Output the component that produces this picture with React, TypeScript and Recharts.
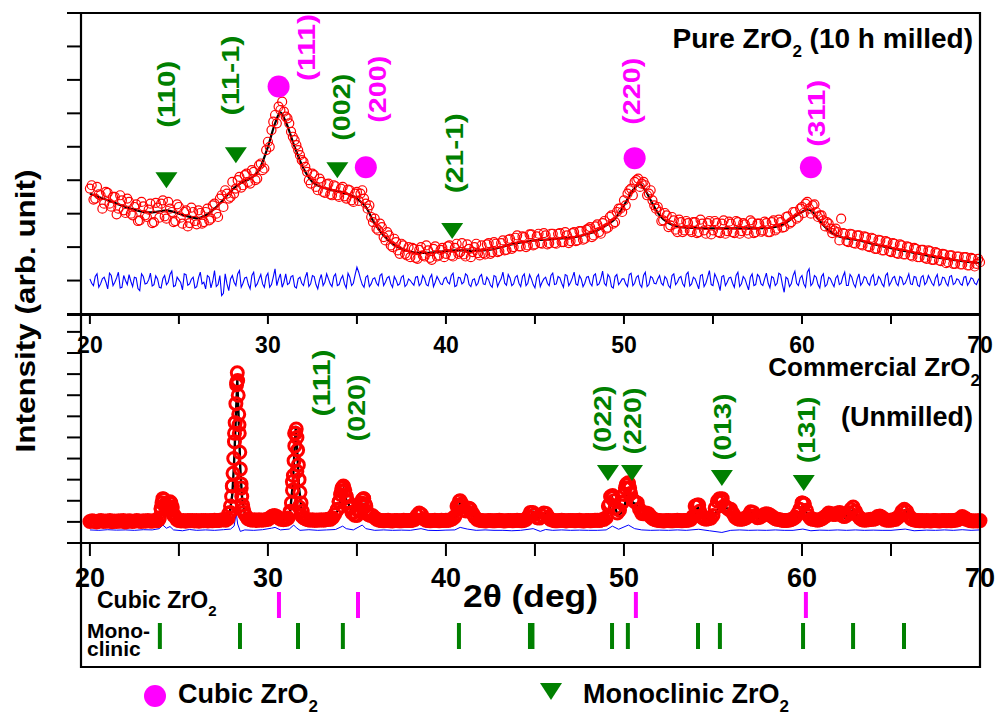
import React from "react";
import { ComposedChart, Line, Scatter, XAxis, YAxis } from "recharts";

const W = 996;
const H = 716;
const FONT = "'Liberation Sans', Arial, sans-serif";
const RED = "#ff0000";
const BLUE = "#0000ff";
const GREEN = "#008000";
const MAGENTA = "#ff00ff";

// 2-theta grid of the milled sample scan
const TOP_START = 20;
const TOP_STEP = 0.2;

// Pure ZrO2 (10 h milled): observed intensity at 20.0, 20.2, ... 70.0
const TOP_OBS = [
  3.75, 3.42, 3.8, 3.55, 3.3, 3.62, 3.21, 3.5, 3.15, 3.4,
  3.02, 3.35, 2.95, 3.28, 2.8, 3.22, 2.9, 3.3, 2.75, 3.18,
  3.3, 2.92, 3.35, 3.05, 2.78, 3.2, 2.7, 3.1, 2.72, 3.05,
  2.68, 3.02, 2.75, 3.15, 2.85, 3.3, 2.9, 3.55, 3.7, 3.45,
  3.95, 3.75, 4.1, 3.85, 4.2, 3.9, 4.25, 4.05, 4.5, 4.35,
  5.15, 5.5, 5.95, 6.2, 6.35, 5.9, 5.7, 5.3, 5.05, 4.75,
  4.55, 4.25, 3.9, 4.15, 3.7, 3.95, 3.62, 3.9, 3.55, 3.82,
  3.5, 3.8, 3.45, 3.7, 3.35, 3.65, 3.6, 3.45, 3.15, 2.9,
  2.85, 2.5, 2.6, 2.2, 2.35, 2.0, 2.15, 1.8, 2.05, 1.75,
  1.7, 1.95, 1.65, 2.0, 1.72, 1.9, 1.62, 2.02, 1.75, 1.98,
  1.8, 2.05, 1.72, 2.1, 1.85, 1.78, 2.08, 1.7, 2.0, 1.82,
  2.05, 1.78, 2.12, 1.85, 2.1, 1.88, 2.2, 1.92, 2.25, 2.0,
  2.35, 2.02, 2.3, 2.05, 2.38, 2.08, 2.4, 2.1, 2.35, 2.12,
  2.4, 2.1, 2.42, 2.15, 2.35, 2.18, 2.45, 2.2, 2.48, 2.25,
  2.55, 2.3, 2.62, 2.45, 2.72, 2.55, 2.9, 2.7, 3.05, 3.15,
  3.4, 3.6, 3.75, 3.95, 4.05, 3.9, 3.85, 3.6, 3.4, 3.15,
  3.05, 2.8, 2.95, 2.65, 2.8, 2.45, 2.75, 2.5, 2.72, 2.45,
  2.75, 2.45, 2.7, 2.4, 2.78, 2.5, 2.72, 2.42, 2.8, 2.48,
  2.7, 2.42, 2.75, 2.48, 2.68, 2.4, 2.74, 2.45, 2.7, 2.5,
  2.72, 2.45, 2.8, 2.55, 2.75, 2.6, 2.92, 2.75, 3.05, 2.9,
  3.2, 3.3, 3.15, 3.25, 3.05, 2.95, 2.8, 2.75, 2.55, 2.5,
  2.45, 2.85, 2.4, 2.15, 2.38, 2.1, 2.35, 2.05, 2.3, 2.0,
  2.25, 1.95, 2.2, 1.9, 2.15, 1.85, 2.1, 1.8, 2.05, 1.78,
  2.0, 1.72, 1.95, 1.7, 1.92, 1.65, 1.88, 1.62, 1.82, 1.58,
  1.78, 1.55, 1.75, 1.5, 1.72, 1.48, 1.7, 1.45, 1.65, 1.5,
  1.55,
];

// the in-between scan points, at 20.1, 20.3, ... 69.9
const TOP_OBS_ODD = [
  3.85, 3.45, 3.58, 3.15, 3.65, 3.3, 3.5, 2.98, 3.55, 3.1,
  3.45, 3.0, 3.2, 2.78, 3.35, 2.95, 3.12, 2.72, 3.32, 2.88,
  3.4, 2.85, 3.15, 2.75, 3.28, 2.88, 3.05, 2.62, 3.18, 2.78,
  3.1, 2.7, 3.05, 2.8, 3.25, 3.0, 3.45, 3.2, 3.6, 3.5,
  3.6, 4.0, 3.78, 4.15, 3.95, 4.3, 4.0, 4.45, 4.3, 4.9,
  5.0, 5.75, 5.7, 6.1, 6.05, 5.85, 5.45, 5.2, 4.9, 4.6,
  4.4, 4.0, 4.2, 3.8, 4.05, 3.65, 3.88, 3.58, 3.85, 3.55,
  3.75, 3.52, 3.72, 3.4, 3.6, 3.38, 3.7, 3.3, 3.25, 2.75,
  2.55, 2.7, 2.3, 2.45, 2.05, 2.25, 1.9, 2.1, 1.8, 2.0,
  1.98, 1.68, 1.92, 1.75, 2.05, 1.68, 1.95, 1.72, 1.92, 1.7,
  2.02, 1.75, 1.98, 1.8, 2.12, 1.72, 1.95, 1.85, 2.1, 1.75,
  1.82, 2.08, 1.8, 2.15, 1.85, 2.12, 1.9, 2.22, 1.95, 2.28,
  2.02, 2.32, 2.0, 2.38, 2.05, 2.32, 2.12, 2.42, 2.08, 2.4,
  2.12, 2.4, 2.15, 2.45, 2.12, 2.42, 2.18, 2.48, 2.22, 2.52,
  2.6, 2.35, 2.68, 2.4, 2.78, 2.58, 2.95, 2.75, 3.15, 3.05,
  3.25, 3.7, 3.55, 4.0, 3.8, 3.95, 3.55, 3.7, 3.25, 3.2,
  2.78, 3.02, 2.6, 2.9, 2.52, 2.82, 2.45, 2.78, 2.5, 2.75,
  2.42, 2.82, 2.5, 2.72, 2.38, 2.78, 2.45, 2.7, 2.4, 2.76,
  2.45, 2.78, 2.4, 2.72, 2.5, 2.8, 2.42, 2.7, 2.46, 2.76,
  2.45, 2.75, 2.5, 2.82, 2.58, 2.9, 2.7, 3.05, 2.85, 3.15,
  3.02, 3.35, 3.0, 3.28, 2.9, 2.95, 2.62, 2.7, 2.42, 2.55,
  2.2, 2.42, 2.18, 2.4, 2.12, 2.35, 2.08, 2.32, 2.02, 2.28,
  1.95, 2.22, 1.9, 2.18, 1.88, 2.12, 1.82, 2.08, 1.78, 2.02,
  1.75, 1.98, 1.7, 1.92, 1.68, 1.9, 1.62, 1.85, 1.6, 1.8,
  1.52, 1.75, 1.5, 1.72, 1.48, 1.7, 1.45, 1.68, 1.42, 1.65,
];

// difference curve (obs - calc) at 20.0, 20.2, ... 70.0
const TOP_DIFF = [
  1.05, 0.85, 1.2, 0.9, 1.1, 0.75, 1.15, 0.95, 1.25, 0.8,
  1.0, 1.18, 0.82, 1.08, 0.7, 1.12, 0.92, 1.22, 0.88, 1.05,
  0.78, 1.15, 0.95, 1.28, 0.85, 1.02, 0.72, 1.18, 0.9, 1.1,
  0.82, 1.25, 0.95, 1.15, 0.78, 1.3, 0.88, 0.55, 1.2, 0.7,
  1.15, 0.85, 1.3, 0.92, 1.1, 0.75, 1.25, 0.9, 1.18, 0.8,
  1.22, 0.88, 1.35, 1.05, 0.8, 1.2, 0.92, 1.15, 0.78, 1.1,
  0.85, 1.25, 0.9, 1.12, 0.75, 1.18, 0.95, 1.05, 0.82, 1.2,
  0.88, 1.15, 0.78, 1.1, 0.92, 1.4, 1.05, 0.8, 1.15, 0.9,
  1.08, 0.85, 1.2, 0.95, 1.12, 0.8, 1.02, 0.9, 1.15, 0.88,
  1.0, 0.86, 1.12, 0.92, 1.06, 0.84, 1.18, 0.95, 1.02, 0.88,
  1.1, 0.9, 1.22, 0.85, 1.08, 0.95, 1.15, 0.82, 1.05, 0.92,
  1.18, 0.88, 1.02, 0.8, 1.12, 0.95, 1.25, 0.86, 1.08, 0.9,
  1.15, 0.82, 1.2, 0.92, 1.05, 0.78, 1.18, 0.95, 1.1, 0.85,
  1.22, 0.9, 1.08, 0.8, 1.15, 0.94, 1.25, 0.86, 1.05, 0.92,
  1.12, 0.84, 1.2, 0.9, 1.28, 0.85, 1.1, 0.78, 1.18, 0.95,
  1.05, 0.82, 1.22, 0.92, 1.15, 0.8, 1.25, 0.88, 1.08, 0.9,
  1.15, 0.86, 1.05, 0.78, 1.2, 0.95, 1.12, 0.82, 1.25, 0.9,
  1.05, 0.75, 1.18, 0.92, 1.3, 0.85, 1.08, 0.7, 1.15, 0.95,
  1.1, 0.8, 1.25, 0.9, 1.05, 0.72, 1.2, 0.88, 1.12, 0.85,
  1.22, 0.78, 1.08, 0.92, 1.18, 0.65, 1.05, 0.9, 1.28, 0.85,
  1.15, 0.8, 1.35, 0.92, 1.1, 0.78, 1.2, 0.88, 1.05, 0.82,
  1.15, 0.92, 1.25, 0.85, 1.1, 0.8, 1.2, 0.94, 1.08, 0.86,
  1.18, 0.9, 1.05, 0.82, 1.22, 0.95, 1.12, 0.85, 1.08, 0.92,
  1.2, 0.88, 1.1, 0.82, 1.15, 0.95, 1.05, 0.85, 1.18, 0.9,
  1.08, 0.84, 1.15, 0.92, 1.02, 0.86, 1.12, 0.95, 1.05, 0.88,
  1.1,
];

// difference curve at 20.1, 20.3, ... 69.9
const TOP_DIFF_ODD = [
  0.92, 1.12, 0.8, 1.05, 0.95, 1.22, 0.85, 1.08, 0.78, 1.15,
  0.88, 0.98, 1.1, 0.76, 1.2, 0.9, 1.02, 0.84, 1.14, 0.8,
  1.06, 0.88, 1.18, 0.82, 1.1, 0.94, 1.2, 0.86, 1.04, 0.78,
  1.08, 0.9, 0.75, 1.1, 0.98, 0.82, 1.15, 0.62, 0.9, 1.05,
  0.95, 1.2, 0.8, 1.08, 0.88, 1.15, 0.82, 1.05, 0.9, 1.12,
  0.8, 1.1, 0.85, 1.2, 0.95, 0.88, 1.12, 0.82, 1.05, 0.92,
  1.1, 0.82, 1.15, 0.88, 1.02, 0.85, 1.2, 0.9, 1.12, 0.85,
  1.05, 0.9, 1.22, 0.85, 1.18, 1.25, 0.88, 1.1, 0.82, 1.05,
  0.92, 1.15, 0.85, 1.08, 0.9, 1.12, 0.86, 1.1, 0.82, 1.05,
  0.92, 1.1, 0.85, 1.15, 0.88, 1.08, 0.82, 1.12, 0.9, 1.05,
  0.95, 1.15, 0.82, 1.1, 0.9, 1.2, 0.88, 1.02, 0.85, 1.12,
  0.9, 1.1, 0.86, 1.15, 0.82, 1.05, 0.92, 1.18, 0.85, 1.1,
  0.92, 1.12, 0.85, 1.18, 0.88, 1.1, 0.82, 1.05, 0.92, 1.15,
  0.88, 1.12, 0.92, 1.18, 0.85, 1.08, 0.9, 1.15, 0.82, 1.1,
  0.92, 1.15, 0.86, 1.05, 0.92, 1.18, 0.82, 1.12, 0.88, 1.05,
  0.9, 1.18, 0.85, 1.1, 0.88, 1.15, 0.82, 1.12, 0.92, 1.05,
  0.92, 1.12, 0.85, 1.15, 0.88, 1.08, 0.9, 1.18, 0.84, 1.1,
  0.9, 1.15, 0.82, 1.1, 0.88, 1.2, 0.92, 1.12, 0.85, 1.08,
  0.92, 1.15, 0.82, 1.12, 0.88, 1.1, 0.85, 1.18, 0.9, 1.05,
  0.92, 1.12, 0.85, 1.22, 0.88, 1.1, 0.82, 1.15, 0.92, 1.08,
  0.9, 1.25, 0.85, 1.15, 0.88, 1.12, 0.82, 1.1, 0.92, 1.08,
  0.88, 1.12, 0.85, 1.18, 0.9, 1.05, 0.86, 1.12, 0.92, 1.1,
  0.86, 1.12, 0.9, 1.15, 0.85, 1.08, 0.92, 1.12, 0.88, 1.05,
  0.9, 1.12, 0.86, 1.1, 0.88, 1.15, 0.92, 1.08, 0.85, 1.1,
  0.92, 1.12, 0.88, 1.05, 0.9, 1.1, 0.86, 1.08, 0.92, 1.02,
];

// calculated (fit) profile, [2theta, intensity]
const TOP_FIT: [number, number][] = [
  [20, 3.6], [20.5, 3.5], [21, 3.4], [21.5, 3.3], [22, 3.2], [22.5, 3.12], [23, 3.05],
  [23.5, 3.04], [24, 3.08], [24.3, 3.1], [24.6, 3.07], [25, 3.0], [25.5, 2.92], [26, 2.86],
  [26.5, 2.95], [27, 3.15], [27.5, 3.42], [28, 3.72], [28.5, 3.92], [29, 4.05], [29.5, 4.3],
  [30, 5.0], [30.4, 5.7], [30.7, 6.03], [31, 5.75], [31.5, 5.0], [32, 4.35], [32.5, 3.95],
  [33, 3.8], [33.5, 3.72], [34, 3.66], [34.5, 3.58], [35, 3.45], [35.5, 3.2], [36, 2.7],
  [36.5, 2.35], [37, 2.1], [37.5, 1.95], [38, 1.86], [38.5, 1.83], [39, 1.83], [39.5, 1.85],
  [40, 1.88], [40.5, 1.9], [41, 1.9], [41.5, 1.89], [42, 1.9], [42.5, 1.92], [43, 1.98],
  [43.5, 2.06], [44, 2.12], [44.5, 2.16], [45, 2.2], [45.5, 2.22], [46, 2.24], [46.5, 2.26],
  [47, 2.28], [47.5, 2.33], [48, 2.4], [48.5, 2.5], [49, 2.65], [49.5, 2.85], [50, 3.25],
  [50.5, 3.7], [50.9, 3.88], [51.2, 3.7], [51.5, 3.4], [52, 2.95], [52.5, 2.72], [53, 2.62],
  [53.5, 2.58], [54, 2.57], [55, 2.56], [56, 2.56], [57, 2.56], [58, 2.57], [58.5, 2.6],
  [59, 2.7], [59.5, 2.88], [60, 3.05], [60.3, 3.13], [60.6, 3.05], [61, 2.78], [61.5, 2.5],
  [62, 2.33], [62.5, 2.26], [63, 2.22], [63.5, 2.16], [64, 2.09], [64.5, 2.03], [65, 1.97],
  [65.5, 1.91], [66, 1.86], [66.5, 1.81], [67, 1.75], [67.5, 1.7], [68, 1.66], [68.5, 1.62],
  [69, 1.58], [69.5, 1.55], [70, 1.52],
];

// Commercial ZrO2 (unmilled): observed at 20.000, 20.125, ... 70.000 (8 points per degree)
const BOT_START = 20;
const BOT_STEP = 0.125;
const BOT_OBS = [
  1.02, 1.05, 1.03, 1.0, 1.04, 1.06, 1.02, 1.04,
  1.03, 1.06, 1.01, 1.04, 1.02, 1.05, 1.03, 1.06,
  1.0, 1.04, 1.05, 1.02, 1.03, 1.06, 1.04, 1.02,
  1.05, 1.03, 1.06, 1.04, 1.03, 1.07, 1.05, 1.12,
  1.65, 2.08, 1.85, 1.62, 1.88, 1.7, 1.3, 1.12,
  1.06, 1.04, 1.07, 1.03, 1.06, 1.05, 1.07, 1.04,
  1.06, 1.03, 1.07, 1.05, 1.06, 1.04, 1.07, 1.05,
  1.08, 1.06, 1.07, 1.09, 1.1, 1.08, 1.15, 1.45,
  2.7, 5.2, 7.6, 5.6, 2.6, 1.6, 1.3, 1.15,
  1.1, 1.08, 1.1, 1.07, 1.1, 1.08, 1.09, 1.1,
  1.12, 1.2, 1.28, 1.3, 1.25, 1.18, 1.12, 1.1,
  1.12, 1.18, 1.45, 2.9, 5.2, 3.4, 1.7, 1.3,
  1.2, 1.14, 1.1, 1.08, 1.1, 1.07, 1.09, 1.08,
  1.1, 1.08, 1.1, 1.12, 1.12, 1.2, 1.35, 1.55,
  1.95, 2.45, 2.65, 2.25, 1.95, 1.65, 1.42, 1.32,
  1.3, 1.55, 1.9, 2.1, 1.75, 1.35, 1.3, 1.3,
  1.2, 1.12, 1.08, 1.06, 1.05, 1.07, 1.08, 1.05,
  1.04, 1.06, 1.07, 1.05, 1.05, 1.08, 1.07, 1.06,
  1.06, 1.08, 1.12, 1.3, 1.42, 1.35, 1.15, 1.08,
  1.06, 1.05, 1.07, 1.08, 1.06, 1.05, 1.08, 1.06,
  1.08, 1.07, 1.1, 1.15, 1.25, 1.75, 1.98, 1.7,
  1.55, 1.52, 1.62, 1.6, 1.4, 1.22, 1.12, 1.08,
  1.06, 1.05, 1.04, 1.06, 1.07, 1.05, 1.05, 1.06,
  1.08, 1.06, 1.04, 1.05, 1.07, 1.06, 1.05, 1.07,
  1.08, 1.06, 1.05, 1.07, 1.12, 1.25, 1.45, 1.45,
  1.35, 1.2, 1.18, 1.3, 1.42, 1.4, 1.22, 1.12,
  1.08, 1.05, 1.05, 1.07, 1.08, 1.06, 1.04, 1.06,
  1.07, 1.06, 1.05, 1.07, 1.08, 1.05, 1.04, 1.06,
  1.07, 1.05, 1.06, 1.08, 1.08, 1.06, 1.1, 1.12,
  1.2, 1.75, 2.2, 2.15, 1.65, 1.42, 1.55, 1.9,
  2.3, 2.75, 2.82, 2.35, 2.05, 1.95, 1.9, 1.6,
  1.4, 1.38, 1.42, 1.38, 1.25, 1.15, 1.1, 1.08,
  1.06, 1.05, 1.04, 1.06, 1.07, 1.05, 1.05, 1.06,
  1.08, 1.06, 1.05, 1.07, 1.07, 1.08, 1.12, 1.25,
  1.75, 1.8, 1.5, 1.22, 1.15, 1.13, 1.15, 1.18,
  1.3, 1.65, 1.98, 2.1, 1.95, 1.75, 1.7, 1.6,
  1.6, 1.4, 1.22, 1.15, 1.12, 1.13, 1.15, 1.2,
  1.3, 1.48, 1.45, 1.3, 1.2, 1.22, 1.28, 1.35,
  1.38, 1.36, 1.3, 1.22, 1.15, 1.12, 1.1, 1.08,
  1.06, 1.07, 1.08, 1.1, 1.15, 1.22, 1.38, 1.6,
  1.9, 1.85, 1.55, 1.28, 1.15, 1.12, 1.1, 1.08,
  1.1, 1.15, 1.22, 1.3, 1.42, 1.4, 1.35, 1.35,
  1.42, 1.45, 1.3, 1.25, 1.3, 1.45, 1.6, 1.7,
  1.5, 1.3, 1.18, 1.1, 1.08, 1.09, 1.1, 1.12,
  1.12, 1.15, 1.25, 1.28, 1.22, 1.12, 1.08, 1.08,
  1.08, 1.1, 1.12, 1.2, 1.3, 1.5, 1.6, 1.5,
  1.3, 1.15, 1.1, 1.08, 1.06, 1.05, 1.07, 1.04,
  1.07, 1.05, 1.04, 1.06, 1.06, 1.05, 1.04, 1.06,
  1.07, 1.05, 1.06, 1.05, 1.07, 1.08, 1.1, 1.15,
  1.25, 1.2, 1.12, 1.08, 1.05, 1.04, 1.05, 1.04,
  1.06,
];

// finer scan points across the reflections, [2theta, intensity]
const BOT_OBS_PEAKS: [number, number][] = [
  [23.9, 1.2], [24.0, 1.6], [24.05, 1.9], [24.1, 2.1], [24.15, 2.05], [24.2, 1.8], [24.3, 1.6],
  [24.4, 1.7], [24.5, 1.95], [24.55, 1.9], [24.6, 1.6], [24.7, 1.3], [27.8, 1.4], [27.9, 1.75],
  [27.96, 2.2], [28.0, 2.7], [28.04, 3.3], [28.08, 4.0], [28.12, 4.8], [28.16, 5.7], [28.2, 6.6],
  [28.24, 7.5], [28.28, 8.06], [28.3, 7.7], [28.33, 7.0], [28.36, 6.1], [28.39, 5.2], [28.42, 4.3],
  [28.45, 3.5], [28.49, 2.8], [28.53, 2.2], [28.58, 1.8], [28.65, 1.45], [31.25, 1.5], [31.32, 1.9],
  [31.38, 2.5], [31.43, 3.2], [31.47, 3.9], [31.51, 4.6], [31.55, 5.2], [31.59, 5.4], [31.63, 5.0],
  [31.67, 4.4], [31.71, 3.7], [31.75, 3.0], [31.8, 2.4], [31.86, 1.9], [31.93, 1.5], [33.9, 1.6],
  [34.0, 1.95], [34.08, 2.3], [34.16, 2.6], [34.24, 2.7], [34.32, 2.5], [34.4, 2.2], [34.5, 1.95],
  [34.6, 1.7], [34.72, 1.45], [35.12, 1.5], [35.22, 1.8], [35.3, 2.05], [35.38, 2.1], [35.46, 1.85],
  [35.55, 1.5], [40.72, 1.8], [40.8, 2.0], [40.9, 1.85], [41.3, 1.65], [49.2, 1.85], [49.28, 2.15],
  [49.36, 2.25], [49.44, 2.0], [49.92, 1.95], [50.08, 2.6], [50.16, 2.8], [50.24, 2.85], [50.32, 2.6],
  [54.1, 1.75], [54.2, 1.8], [55.42, 2.05], [55.52, 2.1], [60.02, 1.9], [60.12, 1.85],
];

const BOT_FIT: [number, number][] = [
  [20, 1.05], [23.8, 1.07], [23.95, 1.25], [24.1, 2.0], [24.25, 1.5], [24.35, 1.6], [24.5, 1.9],
  [24.65, 1.35], [24.9, 1.1], [27.6, 1.12], [27.85, 1.4], [28.0, 2.3], [28.1, 3.8], [28.2, 6.0],
  [28.28, 7.72], [28.36, 5.8], [28.45, 3.5], [28.55, 2.1], [28.7, 1.4], [29.0, 1.15], [30.0, 1.1],
  [30.3, 1.15], [30.5, 1.1], [31.0, 1.12], [31.25, 1.5], [31.4, 2.8], [31.5, 4.5], [31.57, 5.55],
  [31.65, 4.3], [31.75, 2.6], [31.9, 1.5], [32.2, 1.15], [33.6, 1.15], [33.9, 1.5], [34.1, 2.1],
  [34.25, 2.5], [34.4, 2.05], [34.55, 1.8], [34.75, 1.4], [35.0, 1.3], [35.2, 1.45], [35.39, 1.8],
  [35.55, 1.35], [35.75, 1.2], [35.9, 1.3], [36.1, 1.1], [38.3, 1.08], [38.6, 1.42], [38.9, 1.1],
  [40.5, 1.15], [40.8, 1.9], [41.05, 1.45], [41.3, 1.56], [41.6, 1.2], [42.0, 1.08], [44.6, 1.1],
  [44.9, 1.47], [45.2, 1.15], [45.55, 1.42], [45.85, 1.1], [49.0, 1.1], [49.35, 2.08], [49.65, 1.3],
  [49.95, 1.5], [50.25, 2.5], [50.5, 1.9], [50.7, 1.85], [50.95, 1.35], [51.3, 1.42], [51.6, 1.12],
  [53.8, 1.1], [54.15, 1.7], [54.45, 1.15], [55.0, 1.2], [55.5, 1.95], [55.75, 1.65], [55.95, 1.6],
  [56.3, 1.2], [56.8, 1.1], [57.2, 1.47], [57.5, 1.15], [57.9, 1.3], [58.2, 1.33], [58.6, 1.12],
  [59.7, 1.15], [60.05, 1.75], [60.4, 1.2], [60.9, 1.08], [61.4, 1.25], [61.6, 1.4], [61.85, 1.25],
  [62.1, 1.4], [62.4, 1.2], [62.9, 1.6], [63.2, 1.15], [64.1, 1.1], [64.4, 1.23], [64.7, 1.08],
  [65.4, 1.15], [65.8, 1.56], [66.2, 1.12], [68.6, 1.07], [69.0, 1.18], [69.4, 1.05], [70, 1.03],
];

const BOT_DIFF: [number, number][] = [
  [20, 0.62], [20.5, 0.6], [21, 0.63], [21.5, 0.61], [22, 0.62], [22.5, 0.6], [23, 0.63], [23.5, 0.62],
  [23.9, 0.68], [24.1, 0.85], [24.3, 0.7], [24.5, 0.78], [24.7, 0.62], [25.2, 0.58], [25.6, 0.64],
  [26, 0.6], [26.5, 0.62], [27, 0.6], [27.5, 0.63], [27.9, 0.66], [28.1, 0.8], [28.22, 1.42],
  [28.3, 0.9], [28.45, 0.55], [28.7, 0.62], [29.2, 0.6], [29.7, 0.63], [30.2, 0.7], [30.4, 0.74],
  [30.7, 0.62], [31.2, 0.66], [31.45, 0.85], [31.6, 0.72], [31.8, 0.6], [32.3, 0.63], [32.8, 0.6],
  [33.3, 0.62], [33.8, 0.64], [34.2, 0.8], [34.4, 0.68], [34.8, 0.62], [35.3, 0.85], [35.5, 0.68],
  [36, 0.6], [36.5, 0.62], [37, 0.6], [37.5, 0.61], [38, 0.6], [38.6, 0.68], [39, 0.6], [39.5, 0.59],
  [40, 0.61], [40.5, 0.62], [40.8, 0.74], [41.2, 0.66], [41.7, 0.6], [42.2, 0.62], [42.7, 0.6],
  [43.2, 0.6], [43.7, 0.58], [44.2, 0.6], [44.9, 0.68], [45.3, 0.55], [45.6, 0.64], [46, 0.6],
  [46.5, 0.62], [47, 0.6], [47.5, 0.61], [48, 0.6], [48.5, 0.6], [49, 0.62], [49.35, 0.8],
  [49.7, 0.65], [50.25, 0.85], [50.6, 0.68], [51, 0.62], [51.5, 0.6], [52, 0.61], [52.5, 0.6],
  [53, 0.62], [53.5, 0.6], [54.2, 0.65], [54.8, 0.58], [55.5, 0.5], [56, 0.6], [56.5, 0.62],
  [57, 0.6], [57.5, 0.61], [58, 0.6], [58.5, 0.62], [59, 0.6], [59.5, 0.6], [60.05, 0.66],
  [60.5, 0.58], [61, 0.61], [61.5, 0.6], [62, 0.62], [62.5, 0.6], [63, 0.62], [63.5, 0.6],
  [64, 0.61], [64.5, 0.6], [65, 0.6], [65.8, 0.66], [66.3, 0.58], [67, 0.61], [67.5, 0.6],
  [68, 0.62], [68.5, 0.6], [69, 0.63], [69.5, 0.6], [70, 0.62],
];

// peak markers and Miller indices, [2theta, height]
const TOP_CUBIC_MARKS: [number, number][] = [[30.6, 6.8], [35.5, 4.39], [50.6, 4.66], [60.5, 4.39]];
const TOP_MONO_MARKS: [number, number][] = [[24.3, 4.0], [28.2, 4.75], [33.9, 4.3], [40.35, 2.48]];
const BOT_MONO_MARKS: [number, number][] = [[49.1, 3.32], [50.45, 3.32], [55.5, 3.08], [60.1, 2.84]];

const TOP_MONO_HKL: [number, number, string][] = [
  [24.33, 6.57, "(110)"], [27.87, 7.13, "(11-1)"], [34.16, 6.18, "(002)"], [40.5, 4.81, "(21-1)"],
];
const TOP_CUBIC_HKL: [number, number, string][] = [
  [32.19, 7.97, "(111)"], [36.18, 6.72, "(200)"], [50.45, 6.66, "(220)"], [60.84, 6.0, "(311)"],
];
const BOT_MONO_HKL: [number, number, string][] = [
  [33.03, 7.58, "(111)"], [35.0, 6.4, "(020)"], [48.82, 5.88, "(022)"], [50.5, 5.78, "(220)"],
  [55.56, 5.5, "(013)"], [60.28, 5.36, "(131)"],
];

// reference reflection positions (deg)
const CUBIC_REFLECTIONS = [30.62, 35.06, 50.67, 60.22];
const MONO_REFLECTIONS = [23.93, 28.43, 31.69, 34.21, 40.73, 44.72, 44.86, 49.33, 50.22, 54.16, 55.39, 60.06, 62.87, 65.73];

const X_TICKS = [20, 25, 30, 35, 40, 45, 50, 55, 60, 65, 70];
const TOP_Y_TICKS = [0, 1, 2, 3, 4, 5, 6, 7, 8, 9];
const BOT_Y_TICKS = [0, 1, 2, 3, 4, 5, 6, 7, 8, 9, 10];

const pts = (rows: [number, number][]) => rows.map(([x, y]) => ({ x, y }));
const grid = (vals: number[], start: number, step: number) =>
  vals.map((y, i) => ({ x: +(start + i * step).toFixed(3), y }));
const hkl = (rows: [number, number, string][]) => rows.map(([x, y, text]) => ({ x, y, text }));
// merge two half-step grids into one x-sorted series
const interleave = (even: number[], odd: number[]) => {
  const a = grid(even, TOP_START, TOP_STEP);
  const b = grid(odd, TOP_START + TOP_STEP / 2, TOP_STEP);
  return a.flatMap((p, i) => (b[i] ? [p, b[i]] : [p]));
};

const topObs = interleave(TOP_OBS, TOP_OBS_ODD);
const topDiff = interleave(TOP_DIFF, TOP_DIFF_ODD);
const topFit = pts(TOP_FIT);
const botObs = [...grid(BOT_OBS, BOT_START, BOT_STEP), ...pts(BOT_OBS_PEAKS)];
const botFit = pts(BOT_FIT);
const botDiff = pts(BOT_DIFF);
const cubicSticks = CUBIC_REFLECTIONS.map((x) => ({ x, y: 0.5 }));
const monoSticks = MONO_REFLECTIONS.map((x) => ({ x, y: 0.25 }));

const openCircle = (r: number, sw: number) => (p: any) => (
  <circle cx={p.cx} cy={p.cy} r={r} fill="none" stroke={RED} strokeWidth={sw} />
);
const dotMark = (p: any) => <circle cx={p.cx} cy={p.cy} r={11} fill={MAGENTA} />;
const triMark = (p: any) => (
  <polygon
    points={`${p.cx - 11},${p.cy - 8} ${p.cx + 11},${p.cy - 8} ${p.cx},${p.cy + 8}`}
    fill={GREEN}
  />
);
const stick = (color: string) => (p: any) => (
  <line x1={p.cx} x2={p.cx} y1={p.cy - 13} y2={p.cy + 13} stroke={color} strokeWidth={4} />
);
const hklLabel = (color: string) => (p: any) => {
  const t: string = p.payload.text;
  return (
    <text
      transform={`translate(${p.cx},${p.cy}) rotate(-90)`}
      textAnchor="middle"
      dominantBaseline="central"
      fill={color}
      fontFamily={FONT}
      fontWeight="bold"
      fontSize={24}
      textLength={t.length > 5 ? 80 : 67}
      lengthAdjust="spacingAndGlyphs"
    >
      {t}
    </text>
  );
};

const xTick = (len: number, dy: number, size: number) => (props: any) => {
  const { x, y, payload } = props;
  const v = payload.value as number;
  return (
    <g>
      <line x1={x} x2={x} y1={y} y2={y + len} stroke="#000" strokeWidth={2} />
      {v % 10 === 0 ? (
        <text x={x} y={y + dy} textAnchor="middle" fontFamily={FONT} fontWeight="bold" fontSize={size} fill="#000">
          {v}
        </text>
      ) : null}
    </g>
  );
};

const layer: React.CSSProperties = { position: "absolute", left: 0, top: 0 };
const X_DOMAIN: [number, number] = [19.5, 70];
const AXIS_H = 20;
const AXIS_W = 14;

export default function App() {
  return (
    <div style={{ position: "absolute", left: 0, top: 0, width: W, height: H, background: "#fff" }}>
      {/* top panel: milled powder */}
      <div style={layer}>
        <ComposedChart width={W} height={H} margin={{ top: 13, right: W - 980, bottom: H - 314, left: 81 - AXIS_W }}>
          <XAxis type="number" dataKey="x" domain={X_DOMAIN} hide />
          <YAxis
            type="number"
            dataKey="y"
            domain={[0, 9]}
            ticks={TOP_Y_TICKS}
            interval={0}
            width={AXIS_W}
            tickFormatter={() => ""}
            tickSize={14}
            axisLine={false}
            tickLine={{ stroke: "#000", strokeWidth: 2 }}
          />
          <Scatter data={topObs} shape={openCircle(4.5, 1.2)} isAnimationActive={false} />
          <Line data={topFit} dataKey="y" type="monotone" stroke="#000" strokeWidth={2.2} dot={false} isAnimationActive={false} />
          <Line data={topDiff} dataKey="y" type="linear" stroke={BLUE} strokeWidth={1.1} dot={false} isAnimationActive={false} />
          <Scatter data={pts(TOP_CUBIC_MARKS)} shape={dotMark} isAnimationActive={false} />
          <Scatter data={pts(TOP_MONO_MARKS)} shape={triMark} isAnimationActive={false} />
          <Scatter data={hkl(TOP_MONO_HKL)} shape={hklLabel(GREEN)} isAnimationActive={false} />
          <Scatter data={hkl(TOP_CUBIC_HKL)} shape={hklLabel(MAGENTA)} isAnimationActive={false} />
        </ComposedChart>
      </div>

      {/* middle panel: commercial powder */}
      <div style={layer}>
        <ComposedChart width={W} height={H} margin={{ top: 315 - AXIS_H, right: W - 980, bottom: H - 543, left: 81 - AXIS_W }}>
          <XAxis
            type="number"
            dataKey="x"
            domain={X_DOMAIN}
            orientation="top"
            ticks={X_TICKS}
            interval={0}
            height={AXIS_H}
            tickSize={0}
            tickMargin={0}
            axisLine={false}
            tickLine={false}
            tick={xTick(9, 38, 23)}
          />
          <YAxis
            type="number"
            dataKey="y"
            domain={[0, 10.8]}
            ticks={BOT_Y_TICKS}
            interval={0}
            width={AXIS_W}
            tickFormatter={() => ""}
            tickSize={14}
            axisLine={false}
            tickLine={{ stroke: "#000", strokeWidth: 2 }}
          />
          <Scatter data={botObs} shape={openCircle(6, 3)} isAnimationActive={false} />
          <Line data={botFit} dataKey="y" type="linear" stroke="#000" strokeWidth={2.4} dot={false} isAnimationActive={false} />
          <Line data={botDiff} dataKey="y" type="linear" stroke={BLUE} strokeWidth={1} dot={false} isAnimationActive={false} />
          <Scatter data={pts(BOT_MONO_MARKS)} shape={triMark} isAnimationActive={false} />
          <Scatter data={hkl(BOT_MONO_HKL)} shape={hklLabel(GREEN)} isAnimationActive={false} />
        </ComposedChart>
      </div>

      {/* bottom strip: reference reflections */}
      <div style={layer}>
        <ComposedChart width={W} height={H} margin={{ top: 543 - AXIS_H, right: W - 980, bottom: H - 667, left: 81 }}>
          <XAxis
            type="number"
            dataKey="x"
            domain={X_DOMAIN}
            orientation="top"
            ticks={X_TICKS}
            interval={0}
            height={AXIS_H}
            tickSize={0}
            tickMargin={0}
            axisLine={false}
            tickLine={false}
            tick={xTick(13, 44, 27)}
          />
          <YAxis type="number" dataKey="y" domain={[0, 1]} hide />
          <Scatter data={cubicSticks} shape={stick(MAGENTA)} isAnimationActive={false} />
          <Scatter data={monoSticks} shape={stick(GREEN)} isAnimationActive={false} />
        </ComposedChart>
      </div>

      {/* frame and text */}
      <svg width={W} height={H} style={{ ...layer, pointerEvents: "none" }}>
        <g stroke="#000" fill="none">
          <line x1={81} y1={12} x2={81} y2={668} strokeWidth={2.2} />
          <line x1={980} y1={12} x2={980} y2={668} strokeWidth={2.2} />
          <line x1={67} y1={13} x2={981} y2={13} strokeWidth={2.2} />
          <line x1={67} y1={314.5} x2={981} y2={314.5} strokeWidth={3} />
          <line x1={67} y1={543} x2={981} y2={543} strokeWidth={2.2} />
          <line x1={80} y1={667} x2={981} y2={667} strokeWidth={2.2} />
        </g>
        <g fontFamily={FONT} fontWeight="bold" fill="#000">
          <text x={973} y={48} textAnchor="end" fontSize={28}>
            Pure ZrO<tspan fontSize={17} dy={9}>2</tspan>
            <tspan dy={-9}>{" (10 h milled)"}</tspan>
          </text>
          <text x={980} y={376} textAnchor="end" fontSize={26}>
            Commercial ZrO<tspan fontSize={17} dy={10}>2</tspan>
          </text>
          <text x={973} y={426} textAnchor="end" fontSize={27}>
            (Unmilled)
          </text>
          <text
            transform="translate(35,311) rotate(-90)"
            textAnchor="middle"
            fontSize={28}
            textLength={283}
            lengthAdjust="spacingAndGlyphs"
          >
            Intensity (arb. unit)
          </text>
          <text x={463} y={607} fontSize={31} textLength={135} lengthAdjust="spacingAndGlyphs">
            2θ (deg)
          </text>
          <text x={97} y={608} fontSize={23}>
            Cubic ZrO<tspan fontSize={15} dy={8}>2</tspan>
          </text>
          <text x={87} y={638} fontSize={21}>
            Mono-
            <tspan x={87} dy={18}>clinic</tspan>
          </text>
          <circle cx={155} cy={696} r={11} fill={MAGENTA} />
          <text x={178} y={703} fontSize={27}>
            Cubic ZrO<tspan fontSize={17} dy={9}>2</tspan>
          </text>
          <polygon points="540,683 562,683 551,700" fill={GREEN} />
          <text x={583} y={703} fontSize={27}>
            Monoclinic ZrO<tspan fontSize={17} dy={9}>2</tspan>
          </text>
        </g>
      </svg>
    </div>
  );
}
